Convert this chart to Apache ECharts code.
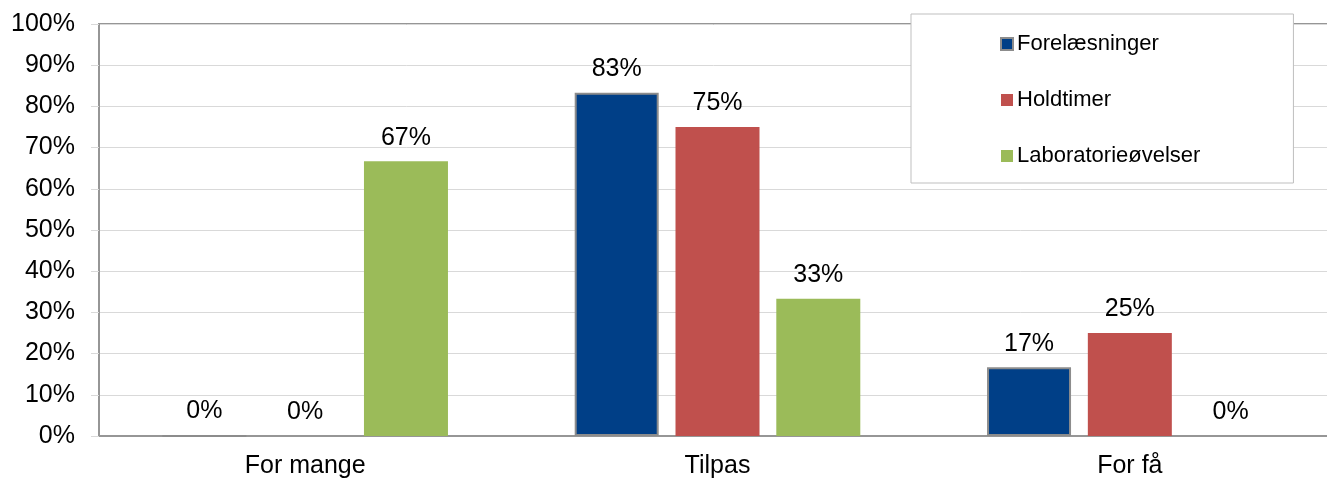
<!DOCTYPE html>
<html>
<head>
<meta charset="utf-8">
<script src="https://cdn.jsdelivr.net/npm/echarts@6/dist/echarts.min.js"></script>
<style>
  html, body { margin: 0; padding: 0; background: #fff; }
  #chart { width: 1327px; height: 481px; }
</style>
</head>
<body>
<div id="chart"></div>
<script>
// data
const categories = ['For mange', 'Tilpas', 'For få']
const seriesNames = ['Forelæsninger', 'Holdtimer', 'Laboratorieøvelser']
const forelaesninger = [0, 83.3, 16.7]
const holdtimer = [0, 75, 25]
const laboratorieovelser = [66.7, 33.3, 0]
const yTicks = [0, 10, 20, 30, 40, 50, 60, 70, 80, 90, 100]

const colors = ['#003F87', '#C0504D', '#9BBB59']
const font = 'Liberation Sans, Arial, sans-serif'

const chart = echarts.init(document.getElementById('chart'))

const makeSeries = (name, data, color, bordered) => ({
  name: name,
  type: 'bar',
  data: data,
  barWidth: 84,
  barGap: '20%',
  itemStyle: {
    color: color,
    borderColor: bordered ? '#8c8c8c' : color,
    borderWidth: bordered ? 2 : 0
  },
  label: {
    show: true,
    position: 'top',
    distance: 11,
    color: '#000',
    fontFamily: font,
    fontSize: 25,
    formatter: (p) => Math.round(p.value) + '%'
  }
})

chart.setOption({
  animation: false,
  backgroundColor: '#fff',
  grid: {
    left: 99,
    width: 1237,
    top: 24,
    bottom: 45,
    outerBoundsMode: 'none',
    show: true,
    borderColor: '#969696',
    borderWidth: 2
  },
  legend: {
    orient: 'vertical',
    left: 911,
    top: 14,
    backgroundColor: '#fff',
    borderColor: '#bfbfbf',
    borderWidth: 1,
    padding: [19, 93, 16, 89],
    itemWidth: 12,
    itemHeight: 12,
    itemGap: 34,
    icon: 'rect',
    textStyle: { fontFamily: font, fontSize: 22, color: '#000', padding: [0, 0, 0, -1] },
    data: seriesNames
  },
  xAxis: {
    type: 'category',
    data: categories,
    axisLine: { lineStyle: { color: '#969696', width: 2 } },
    axisTick: { show: false },
    axisLabel: { margin: 18, color: '#000', fontFamily: font, fontSize: 25 }
  },
  yAxis: {
    type: 'value',
    min: yTicks[0],
    max: yTicks[yTicks.length - 1],
    interval: 10,
    axisLine: { show: true, lineStyle: { color: '#969696', width: 2 } },
    axisTick: { show: true, length: 8, lineStyle: { color: '#d9d9d9' } },
    splitLine: { lineStyle: { color: '#d9d9d9', width: 1 } },
    axisLabel: {
      margin: 24,
      color: '#000',
      fontFamily: font,
      fontSize: 25,
      formatter: '{value}%'
    }
  },
  series: [
    makeSeries(seriesNames[0], forelaesninger, colors[0], true),
    makeSeries(seriesNames[1], holdtimer, colors[1], false),
    makeSeries(seriesNames[2], laboratorieovelser, colors[2], false)
  ]
})
</script>
</body>
</html>
